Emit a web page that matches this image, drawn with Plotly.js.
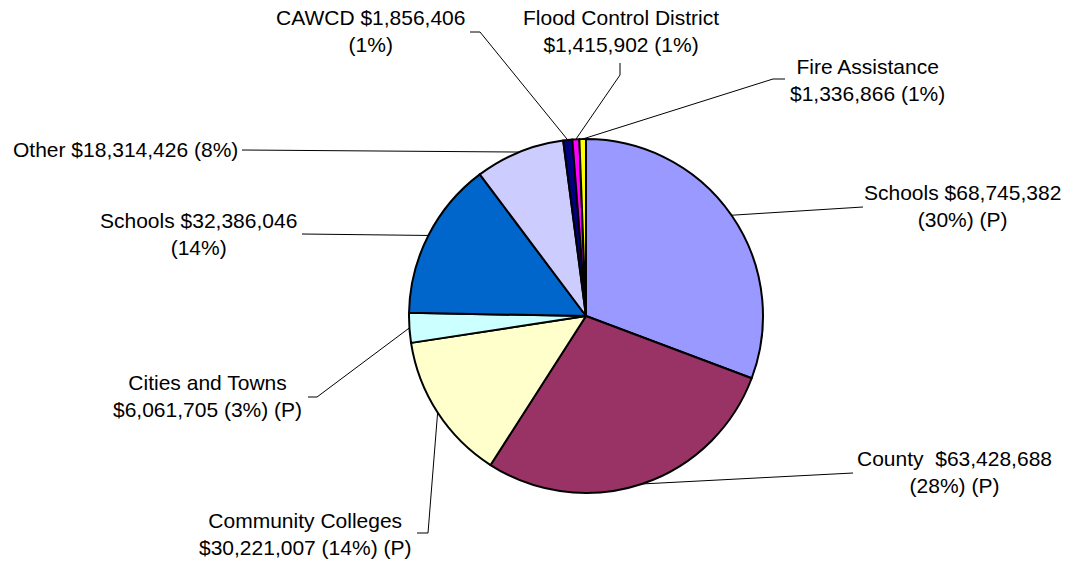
<!DOCTYPE html>
<html>
<head>
<meta charset="utf-8">
<script src="https://cdn.plot.ly/plotly-3.0.1.min.js"></script>
<style>html,body{margin:0;padding:0;background:#fff;}#chart{width:1069px;height:561px;}</style>
</head>
<body>
<div id="chart"></div>
<script>
// ---- data ----
const categories = ["Schools", "County", "Community Colleges", "Cities and Towns", "Schools", "Other", "CAWCD", "Flood Control District", "Fire Assistance"];
const amounts = [68745382, 63428688, 30221007, 6061705, 32386046, 18314426, 1856406, 1415902, 1336866];
const percentLabels = ["30%", "28%", "14%", "3%", "14%", "8%", "1%", "1%", "1%"];
const pFlags = [true, true, true, true, false, false, false, false, false];
const sliceColors = ["#9999FF", "#993366", "#FFFFCC", "#CCFFFF", "#0066CC", "#CCCCFF", "#000080", "#FF00FF", "#FFFF00"];

// ---- layout (pixel positions) ----
const W = 1069, H = 561;
const CX = 586, CY = 316, R = 177;
// wrap: where the line break goes in each label
const labelLayout = [
  {wrap: "amount", cx: 962, cy: 206, pts: [[863, 207]]},
  {wrap: "amount", cx: 954, cy: 472, pts: [[853, 473]]},
  {wrap: "name",   cx: 305, cy: 534, pts: [[428, 533], [417, 533]]},
  {wrap: "name",   cx: 207, cy: 396, pts: [[317, 397], [308, 397]]},
  {wrap: "amount", cx: 198, cy: 234, pts: [[302, 234]]},
  {wrap: "none",   cx: 125, cy: 150, pts: [[242, 150]]},
  {wrap: "amount", cx: 370, cy: 31,  pts: [[480, 32], [470, 32]]},
  {wrap: "name",   cx: 621, cy: 31,  pts: [[620, 75], [620, 63]]},
  {wrap: "name",   cx: 867, cy: 80,  pts: [[773, 79], [785, 79]]}
];

const fmt = v => "$" + v.toLocaleString("en-US");
const px = x => x / W;
const py = y => 1 - y / H;

const labelTexts = categories.map((c, i) => {
  const L = labelLayout[i];
  const sep = (c === "County") ? "\u00a0\u00a0" : " ";
  const tail = "(" + percentLabels[i] + ")" + (pFlags[i] ? " (P)" : "");
  if (L.wrap === "amount") return c + sep + fmt(amounts[i]) + "<br>" + tail;
  if (L.wrap === "name") return c + "<br>" + fmt(amounts[i]) + " " + tail;
  return c + sep + fmt(amounts[i]) + " " + tail;
});

const total = amounts.reduce((a, b) => a + b, 0);
let cum = 0;
const shapes = [];
const annotations = [];
amounts.forEach((v, i) => {
  const mid = (cum + v / 2) / total * 2 * Math.PI; // clockwise from 12 o'clock
  cum += v;
  const ex = CX + R * Math.sin(mid);
  const ey = CY - R * Math.cos(mid);
  const L = labelLayout[i];
  let path = "M" + px(ex) + "," + py(ey);
  L.pts.forEach(p => { path += " L" + px(p[0]) + "," + py(p[1]); });
  shapes.push({type: "path", xref: "paper", yref: "paper", path: path,
               line: {color: "#000000", width: 1}});
  annotations.push({xref: "paper", yref: "paper", x: px(L.cx), y: py(L.cy),
                    xanchor: "center", yanchor: "middle", showarrow: false,
                    text: labelTexts[i], align: "center",
                    font: {family: "Liberation Sans, Arial, sans-serif", size: 21, color: "#000000"}});
});

const trace = {
  type: "pie",
  labels: labelTexts,
  values: amounts,
  sort: false,
  direction: "clockwise",
  rotation: 0,
  textinfo: "none",
  hoverinfo: "label",
  marker: {colors: sliceColors, line: {color: "#000000", width: 2}},
  domain: {x: [px(CX - R), px(CX + R)], y: [py(CY + R), py(CY - R)]}
};

Plotly.newPlot("chart", [trace], {
  width: W, height: H,
  margin: {l: 0, r: 0, t: 0, b: 0},
  showlegend: false,
  paper_bgcolor: "#ffffff",
  shapes: shapes,
  annotations: annotations
}, {staticPlot: true});
</script>
</body>
</html>
